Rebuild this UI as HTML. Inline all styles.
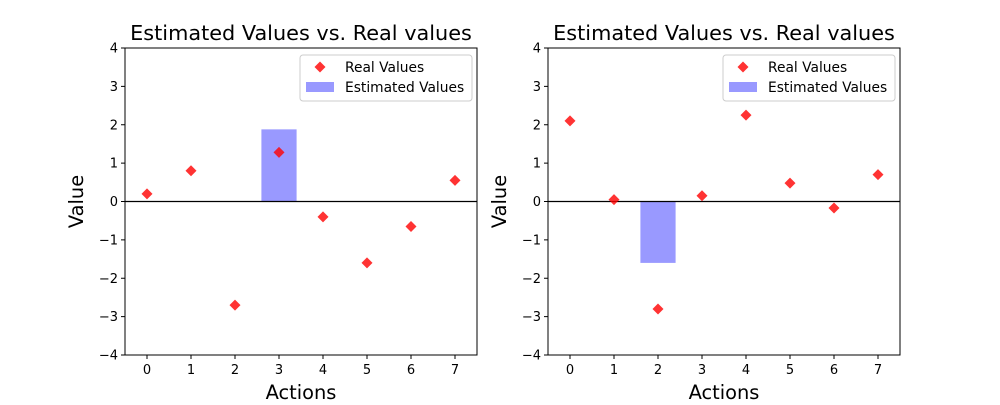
<!DOCTYPE html>
<html><head><meta charset="utf-8"><style>
body{margin:0;background:#fff;}
svg text{font-family:"DejaVu Sans","Liberation Sans",sans-serif;}
</style></head><body>
<svg id="c" width="1000" height="400" xmlns="http://www.w3.org/2000/svg"></svg>
<script>
const categories=[0,1,2,3,4,5,6,7];
const realLeft=[0.2,0.8,-2.7,1.28,-0.4,-1.6,-0.65,0.55];
const realRight=[2.1,0.05,-2.8,0.15,2.25,0.48,-0.17,0.7];
const estLeftIndex=[3];const estLeftValue=[1.88];
const estRightIndex=[2];const estRightValue=[-1.6];
const yTicks=[-4,-3,-2,-1,0,1,2,3,4];
const svg=document.getElementById('c');
const NS='http://www.w3.org/2000/svg';
function mk(t,a,p){const e=document.createElementNS(NS,t);for(const k in a)e.setAttribute(k,a[k]);(p||svg).appendChild(e);return e;}
function panel(x0,real,estI,estV,name){
  const g=mk('g',{});
  
  
  const w=352,top=48,bot=355;
  const X=v=>x0+(v+0.5)*w/8;
  const Y=v=>top+(4-v)*(bot-top)/8;
  for(let i=0;i<estI.length;i++){
    const r=mk('rect',{x:X(estI[i]-0.4),y:Math.min(Y(0),Y(estV[i])),width:X(0.4)-X(-0.4),height:Math.abs(Y(estV[i])-Y(0)),fill:'#0000ff','fill-opacity':0.4},g);
    
    
  }
  mk('line',{x1:x0,x2:x0+w,y1:Y(0),y2:Y(0),stroke:'#000','stroke-width':1.2},g);
  for(let i=0;i<categories.length;i++){
    const cx=X(categories[i]),cy=Y(real[i]);
    const p=mk('polygon',{points:`${cx},${cy-5.5} ${cx+5.5},${cy} ${cx},${cy+5.5} ${cx-5.5},${cy}`,fill:'#ff0000','fill-opacity':0.8},g);
    
    
  }
  mk('rect',{x:x0,y:top,width:w,height:bot-top,fill:'none',stroke:'#000','stroke-width':1},g);
  for(const c of categories){
    mk('line',{x1:X(c),x2:X(c),y1:bot,y2:bot+4,stroke:'#000'},g);
    const t=mk('text',{x:X(c),y:bot+19,'font-size':13,'text-anchor':'middle'},g);t.textContent=c;
  }
  for(const v of yTicks){
    mk('line',{x1:x0-4,x2:x0,y1:Y(v),y2:Y(v),stroke:'#000'},g);
    const t=mk('text',{x:x0-7,y:Y(v)+4.5,'font-size':13,'text-anchor':'end'},g);t.textContent=v<0?'\u2212'+(-v):v;
  }
  const tt=mk('text',{x:x0+w/2,y:40,'font-size':20.8,'text-anchor':'middle'},g);tt.textContent='Estimated Values vs. Real values';
  
  const xl=mk('text',{x:x0+w/2,y:399,'font-size':19.4,'text-anchor':'middle'},g);xl.textContent='Actions';
  
  const yl=mk('text',{x:0,y:0,'font-size':19.4,'text-anchor':'middle',transform:`translate(${x0-42},${(top+bot)/2}) rotate(-90)`},g);yl.textContent='Value';
  
  const lg=mk('g',{},g);
  
  const lx=x0+w-177;
  mk('rect',{x:lx,y:55,width:172,height:46,rx:3,fill:'#fff',stroke:'#ccc'},lg);
  const cx=lx+20;
  mk('polygon',{points:`${cx},61.5 ${cx+5.5},67 ${cx},72.5 ${cx-5.5},67`,fill:'#ff0000','fill-opacity':0.8},lg);
  const t1=mk('text',{x:lx+45,y:72,'font-size':13.8},lg);t1.textContent='Real Values';
  mk('rect',{x:lx+6,y:82,width:28,height:10,fill:'#0000ff','fill-opacity':0.4},lg);
  const t2=mk('text',{x:lx+45,y:92,'font-size':13.8},lg);t2.textContent='Estimated Values';
}
panel(125,realLeft,estLeftIndex,estLeftValue,'left-panel');
panel(548,realRight,estRightIndex,estRightValue,'right-panel');
</script>
</body></html>
